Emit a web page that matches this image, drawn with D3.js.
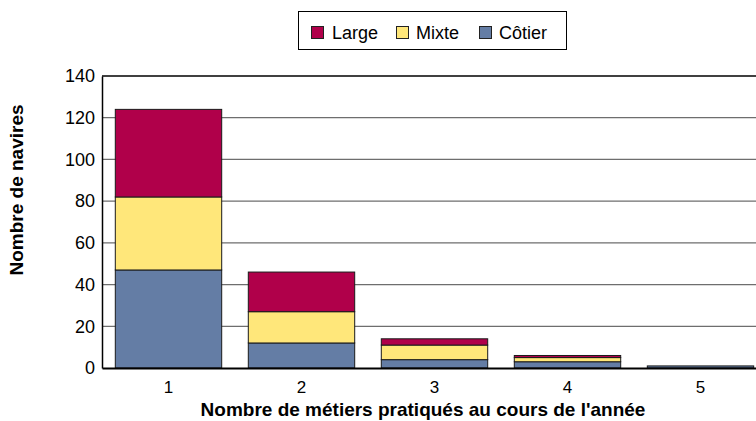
<!DOCTYPE html>
<html>
<head>
<meta charset="utf-8">
<script src="https://cdn.jsdelivr.net/npm/d3@7"></script>
<style>
  body { margin: 0; background: #fff; }
  svg { font-family: "Liberation Sans", Arial, sans-serif; }
</style>
</head>
<body>
<div id="chart"></div>
<script>
    var categories = ["1", "2", "3", "4", "5"];
    var cotier = [47, 12, 4, 3, 1];
    var mixte = [35, 15, 7, 2, 0];
    var large = [42, 19, 3, 1, 0];
    var yTicks = [0, 20, 40, 60, 80, 100, 120, 140];

    var seriesNames = ["Côtier", "Mixte", "Large"];
    var colors = { "Côtier": "#647da5", "Mixte": "#ffe77a", "Large": "#b0004a" };

    var svgWidth = 756;
    var svgHeight = 421;
    var margin = { top: 76, left: 102, bottom: 53 };
    var plotRight = 767;   // plot runs past the window edge in the reference

    var svg = d3.select("#chart")
      .append("svg")
      .attr("width", svgWidth)
      .attr("height", svgHeight);

    // build rows for the stack
    var rows = categories.map(function(c, i) {
      return { cat: c, "Côtier": cotier[i], "Mixte": mixte[i], "Large": large[i] };
    });
    var stacked = d3.stack().keys(seriesNames)(rows);

    var x = d3.scaleBand()
      .domain(categories)
      .range([margin.left, plotRight])
      .paddingInner(0.2)
      .paddingOuter(0.1);

    var y = d3.scaleLinear()
      .domain([0, 140])
      .range([svgHeight - margin.bottom, margin.top]);

    // gridlines
    svg.append("g")
      .selectAll("line")
      .data(yTicks.filter(function(d) { return d > 0 && d < 140; }))
      .enter()
      .append("line")
      .attr("x1", margin.left)
      .attr("x2", plotRight)
      .attr("y1", d => y(d))
      .attr("y2", d => y(d))
      .attr("stroke", "#6e6e6e")
      .attr("stroke-width", 1.3);

    // top border of plot
    svg.append("line")
      .attr("x1", margin.left).attr("x2", plotRight)
      .attr("y1", y(140)).attr("y2", y(140))
      .attr("stroke", "#000").attr("stroke-width", 1.5);

    // bars
    svg.append("g")
      .selectAll("g")
      .data(stacked)
      .enter()
      .append("g")
      .attr("fill", d => colors[d.key])
      .selectAll("rect")
      .data(d => d.filter(s => s[1] > s[0]))
      .enter()
      .append("rect")
      .attr("x", d => x(d.data.cat))
      .attr("y", d => y(d[1]))
      .attr("width", x.bandwidth())
      .attr("height", d => y(d[0]) - y(d[1]))
      .attr("stroke", "#1a1a1a")
      .attr("stroke-width", 1);

    // y axis
    var leftAxis = d3.axisLeft(y).tickValues(yTicks).tickSize(0).tickPadding(7);
    var gy = svg.append("g")
      .attr("transform", `translate(${margin.left}, 0)`)
      .call(leftAxis);
    gy.select(".domain").attr("stroke", "#000").attr("stroke-width", 1.5);
    gy.selectAll("text").attr("font-size", "18px").attr("fill", "#000")
      .style("font-family", "'Liberation Sans', Arial, sans-serif");

    // x axis
    var bottomAxis = d3.axisBottom(x).tickSize(0).tickPadding(13);
    var gx = svg.append("g")
      .attr("transform", `translate(0, ${y(0)})`)
      .call(bottomAxis);
    gx.select(".domain").attr("stroke", "#000").attr("stroke-width", 2);
    gx.selectAll("text").attr("font-size", "17px").attr("fill", "#000")
      .style("font-family", "'Liberation Sans', Arial, sans-serif");

    // axis titles
    svg.append("text")
      .attr("transform", "translate(23, 190) rotate(-90)")
      .attr("text-anchor", "middle")
      .attr("font-size", "19px")
      .attr("font-weight", "bold")
      .text("Nombre de navires");

    svg.append("text")
      .attr("x", 423)
      .attr("y", 416)
      .attr("text-anchor", "middle")
      .attr("font-size", "19px")
      .attr("font-weight", "bold")
      .text("Nombre de métiers pratiqués au cours de l'année");

    // legend
    var legend = svg.append("g");
    legend.append("rect")
      .attr("x", 298.5).attr("y", 11.5)
      .attr("width", 268).attr("height", 38)
      .attr("fill", "#fff").attr("stroke", "#000").attr("stroke-width", 1);

    var legendItems = [
      { key: "Large", sx: 311, tx: 332 },
      { key: "Mixte", sx: 396, tx: 416 },
      { key: "Côtier", sx: 479, tx: 499 }
    ];
    legendItems.forEach(function(item) {
      legend.append("rect")
        .attr("x", item.sx + 0.5).attr("y", 26.5)
        .attr("width", 12).attr("height", 12)
        .attr("fill", colors[item.key])
        .attr("stroke", "#222").attr("stroke-width", 1);
      legend.append("text")
        .attr("x", item.tx).attr("y", 38.5)
        .attr("font-size", "18px")
        .text(item.key);
    });
</script>
</body>
</html>
